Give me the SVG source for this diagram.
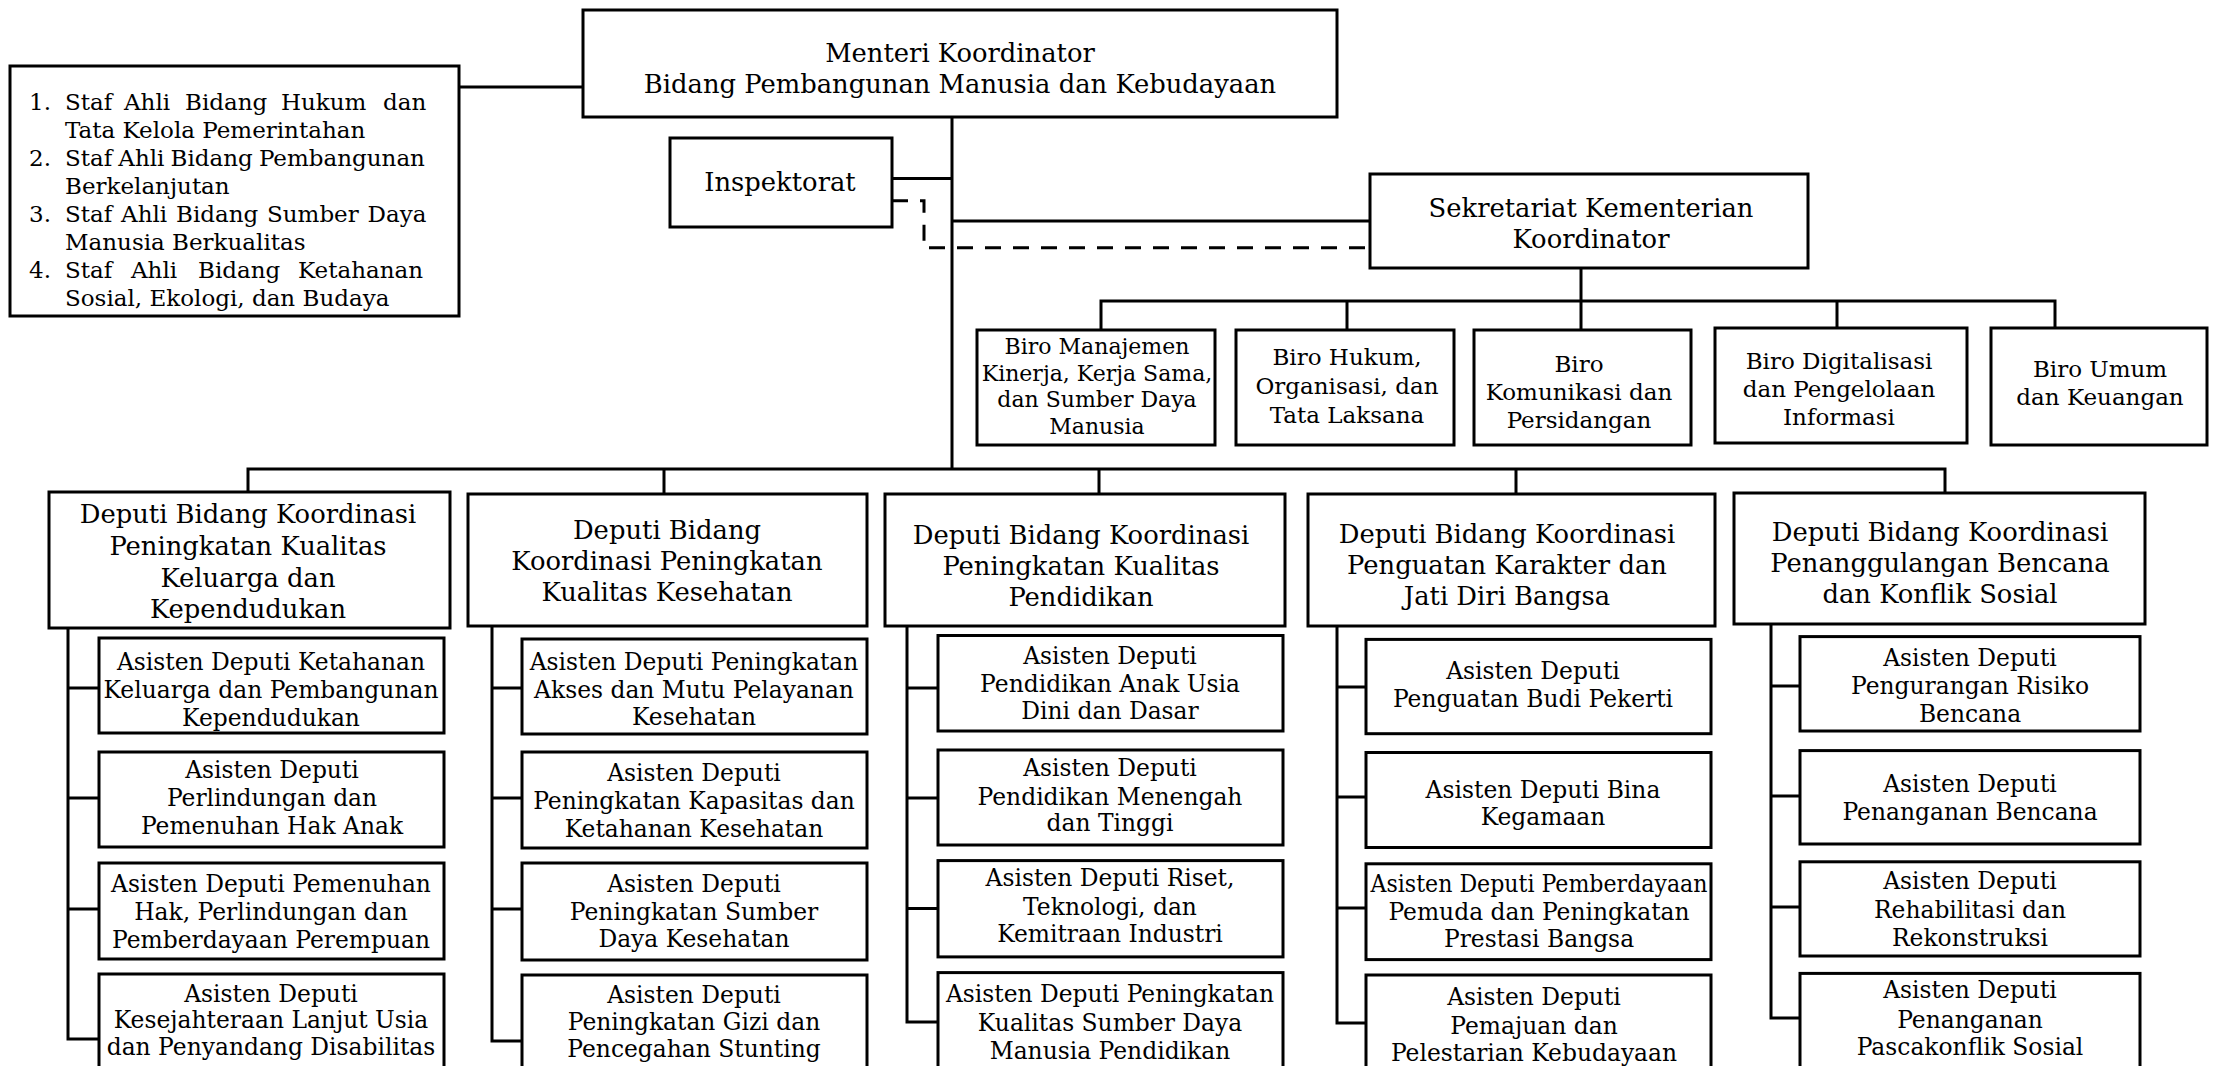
<svg xmlns="http://www.w3.org/2000/svg" width="2215" height="1066" viewBox="0 0 2215 1066">
<style>
.box{fill:#fff;stroke:#000;stroke-width:3}
.ln{fill:none;stroke:#000;stroke-width:3}
.dash{fill:none;stroke:#000;stroke-width:3;stroke-dasharray:16 12}
text{font-family:"DejaVu Serif","Liberation Serif",serif;fill:#000}
.c{text-anchor:middle}
.f25{font-size:25.8px}
.f23{font-size:23.4px}
.fs{font-size:23px}
.f22{font-size:22px}
</style>
<rect width="2215" height="1066" fill="#fff"/>
<g id="connectors">
<path class="ln" d="M459 87H583"/>
<path class="ln" d="M952 117V469"/>
<path class="ln" d="M892 178.5H952"/>
<path class="dash" d="M892 200.7H924V247.7H1370"/>
<path class="ln" d="M952 221H1370"/>
<path class="ln" d="M1581 268V301"/>
<path class="ln" d="M1101 330V301H2055V328"/>
<path class="ln" d="M1347 301V330M1581 301V330M1837 301V328"/>
<path class="ln" d="M248 492V469H1945V493"/>
<path class="ln" d="M664 469V494M1099 469V494M1516 469V494"/>
<path class="ln" d="M68 628V1039H99M68 688H99M68 798H99M68 909H99"/>
<path class="ln" d="M492 626V1041H522M492 688H522M492 798H522M492 909H522"/>
<path class="ln" d="M907 626V1022H938M907 688H938M907 798H938M907 908.5H938"/>
<path class="ln" d="M1337 626V1023H1366M1337 687H1366M1337 797H1366M1337 908H1366"/>
<path class="ln" d="M1771 624V1018H1800M1771 686H1800M1771 796H1800M1771 907H1800"/>
</g>
<g id="menteri">
<rect class="box" x="583" y="10" width="754" height="107"/>
<text class="c f25" x="960" y="62">Menteri Koordinator</text>
<text class="c f25" x="960" y="93">Bidang Pembangunan Manusia dan Kebudayaan</text>
</g>
<g id="staf-ahli">
<rect class="box" x="10" y="66" width="449" height="250"/>
<text class="fs" x="29" y="110">1.</text>
<text class="fs" y="110"><tspan x="65">Staf</tspan><tspan x="124">Ahli</tspan><tspan x="185">Bidang</tspan><tspan x="281">Hukum</tspan><tspan x="383">dan</tspan></text>
<text class="fs" x="65" y="138">Tata Kelola Pemerintahan</text>
<text class="fs" x="29" y="166">2.</text>
<text class="fs" x="65" y="166" word-spacing="-1.2">Staf Ahli Bidang Pembangunan</text>
<text class="fs" x="65" y="194">Berkelanjutan</text>
<text class="fs" x="29" y="222">3.</text>
<text class="fs" x="65" y="222" word-spacing="1.5">Staf Ahli Bidang Sumber Daya</text>
<text class="fs" x="65" y="250">Manusia Berkualitas</text>
<text class="fs" x="29" y="278">4.</text>
<text class="fs" y="278"><tspan x="65">Staf</tspan><tspan x="131">Ahli</tspan><tspan x="198">Bidang</tspan><tspan x="298">Ketahanan</tspan></text>
<text class="fs" x="65" y="306">Sosial, Ekologi, dan Budaya</text>
</g>
<g id="inspektorat">
<rect class="box" x="670" y="138" width="222" height="89"/>
<text class="c f25" x="780" y="191">Inspektorat</text>
</g>
<g id="sekretariat">
<rect class="box" x="1370" y="174" width="438" height="94"/>
<text class="c f25" x="1591" y="217">Sekretariat Kementerian</text>
<text class="c f25" x="1591" y="248">Koordinator</text>
</g>
<g id="biro-1">
<rect class="box" x="977" y="330" width="238" height="115"/>
<text class="c f22" x="1097" y="354">Biro Manajemen</text>
<text class="c f22" x="1097" y="381">Kinerja, Kerja Sama,</text>
<text class="c f22" x="1097" y="407">dan Sumber Daya</text>
<text class="c f22" x="1097" y="434">Manusia</text>
</g>
<g id="biro-2">
<rect class="box" x="1236" y="330" width="218" height="115"/>
<text class="c fs" x="1347" y="365">Biro Hukum,</text>
<text class="c fs" x="1347" y="394">Organisasi, dan</text>
<text class="c fs" x="1347" y="423">Tata Laksana</text>
</g>
<g id="biro-3">
<rect class="box" x="1474" y="330" width="217" height="115"/>
<text class="c fs" x="1579" y="372">Biro</text>
<text class="c fs" x="1579" y="400">Komunikasi dan</text>
<text class="c fs" x="1579" y="428">Persidangan</text>
</g>
<g id="biro-4">
<rect class="box" x="1715" y="328" width="252" height="115"/>
<text class="c fs" x="1839" y="369">Biro Digitalisasi</text>
<text class="c fs" x="1839" y="397">dan Pengelolaan</text>
<text class="c fs" x="1839" y="425">Informasi</text>
</g>
<g id="biro-5">
<rect class="box" x="1991" y="328" width="216" height="117"/>
<text class="c fs" x="2100" y="377">Biro Umum</text>
<text class="c fs" x="2100" y="405">dan Keuangan</text>
</g>
<g id="deputi-1">
<rect class="box" x="49" y="492" width="401" height="136"/>
<text class="c f25" x="248" y="523">Deputi Bidang Koordinasi</text>
<text class="c f25" x="248" y="555">Peningkatan Kualitas</text>
<text class="c f25" x="248" y="587">Keluarga dan</text>
<text class="c f25" x="248" y="618">Kependudukan</text>
</g>
<g id="deputi-2">
<rect class="box" x="468" y="494" width="399" height="132"/>
<text class="c f25" x="667" y="539">Deputi Bidang</text>
<text class="c f25" x="667" y="570">Koordinasi Peningkatan</text>
<text class="c f25" x="667" y="601">Kualitas Kesehatan</text>
</g>
<g id="deputi-3">
<rect class="box" x="885" y="494" width="400" height="132"/>
<text class="c f25" x="1081" y="544">Deputi Bidang Koordinasi</text>
<text class="c f25" x="1081" y="575">Peningkatan Kualitas</text>
<text class="c f25" x="1081" y="606">Pendidikan</text>
</g>
<g id="deputi-4">
<rect class="box" x="1308" y="494" width="407" height="132"/>
<text class="c f25" x="1507" y="543">Deputi Bidang Koordinasi</text>
<text class="c f25" x="1507" y="574">Penguatan Karakter dan</text>
<text class="c f25" x="1507" y="605">Jati Diri Bangsa</text>
</g>
<g id="deputi-5">
<rect class="box" x="1734" y="493" width="411" height="131"/>
<text class="c f25" x="1940" y="541">Deputi Bidang Koordinasi</text>
<text class="c f25" x="1940" y="572">Penanggulangan Bencana</text>
<text class="c f25" x="1940" y="603">dan Konflik Sosial</text>
</g>
<g id="asdep-1-1">
<rect class="box" x="99" y="638" width="345" height="95"/>
<text class="c f23" x="271" y="670">Asisten Deputi Ketahanan</text>
<text class="c f23" x="271" y="698">Keluarga dan Pembangunan</text>
<text class="c f23" x="271" y="726">Kependudukan</text>
</g>
<g id="asdep-1-2">
<rect class="box" x="99" y="752" width="345" height="95"/>
<text class="c f23" x="272" y="778">Asisten Deputi</text>
<text class="c f23" x="272" y="806">Perlindungan dan</text>
<text class="c f23" x="272" y="834">Pemenuhan Hak Anak</text>
</g>
<g id="asdep-1-3">
<rect class="box" x="99" y="863" width="345" height="96"/>
<text class="c f23" x="271" y="892">Asisten Deputi Pemenuhan</text>
<text class="c f23" x="271" y="920">Hak, Perlindungan dan</text>
<text class="c f23" x="271" y="948">Pemberdayaan Perempuan</text>
</g>
<g id="asdep-1-4">
<rect class="box" x="99" y="974" width="345" height="100"/>
<text class="c f23" x="271" y="1002">Asisten Deputi</text>
<text class="c f23" x="271" y="1028">Kesejahteraan Lanjut Usia</text>
<text class="c f23" x="271" y="1055">dan Penyandang Disabilitas</text>
</g>
<g id="asdep-2-1">
<rect class="box" x="522" y="639" width="345" height="95"/>
<text class="c f23" x="694" y="670">Asisten Deputi Peningkatan</text>
<text class="c f23" x="694" y="698">Akses dan Mutu Pelayanan</text>
<text class="c f23" x="694" y="725">Kesehatan</text>
</g>
<g id="asdep-2-2">
<rect class="box" x="522" y="752" width="345" height="96"/>
<text class="c f23" x="694" y="781">Asisten Deputi</text>
<text class="c f23" x="694" y="809">Peningkatan Kapasitas dan</text>
<text class="c f23" x="694" y="837">Ketahanan Kesehatan</text>
</g>
<g id="asdep-2-3">
<rect class="box" x="522" y="863" width="345" height="97"/>
<text class="c f23" x="694" y="892">Asisten Deputi</text>
<text class="c f23" x="694" y="920">Peningkatan Sumber</text>
<text class="c f23" x="694" y="947">Daya Kesehatan</text>
</g>
<g id="asdep-2-4">
<rect class="box" x="522" y="975" width="345" height="100"/>
<text class="c f23" x="694" y="1003">Asisten Deputi</text>
<text class="c f23" x="694" y="1030">Peningkatan Gizi dan</text>
<text class="c f23" x="694" y="1057">Pencegahan Stunting</text>
</g>
<g id="asdep-3-1">
<rect class="box" x="938" y="635.5" width="345" height="95.5"/>
<text class="c f23" x="1110" y="664">Asisten Deputi</text>
<text class="c f23" x="1110" y="692">Pendidikan Anak Usia</text>
<text class="c f23" x="1110" y="719">Dini dan Dasar</text>
</g>
<g id="asdep-3-2">
<rect class="box" x="938" y="750" width="345" height="95"/>
<text class="c f23" x="1110" y="776">Asisten Deputi</text>
<text class="c f23" x="1110" y="805">Pendidikan Menengah</text>
<text class="c f23" x="1110" y="831">dan Tinggi</text>
</g>
<g id="asdep-3-3">
<rect class="box" x="938" y="860.6" width="345" height="96.3"/>
<text class="c f23" x="1110" y="886">Asisten Deputi Riset,</text>
<text class="c f23" x="1110" y="915">Teknologi, dan</text>
<text class="c f23" x="1110" y="942">Kemitraan Industri</text>
</g>
<g id="asdep-3-4">
<rect class="box" x="938" y="972.6" width="345" height="100"/>
<text class="c f23" x="1110" y="1002" textLength="328" lengthAdjust="spacingAndGlyphs">Asisten Deputi Peningkatan</text>
<text class="c f23" x="1110" y="1031">Kualitas Sumber Daya</text>
<text class="c f23" x="1110" y="1059">Manusia Pendidikan</text>
</g>
<g id="asdep-4-1">
<rect class="box" x="1366" y="639.4" width="345" height="94.3"/>
<text class="c f23" x="1533" y="679">Asisten Deputi</text>
<text class="c f23" x="1533" y="707">Penguatan Budi Pekerti</text>
</g>
<g id="asdep-4-2">
<rect class="box" x="1366" y="752.5" width="345" height="95"/>
<text class="c f23" x="1543" y="798">Asisten Deputi Bina</text>
<text class="c f23" x="1543" y="825">Kegamaan</text>
</g>
<g id="asdep-4-3">
<rect class="box" x="1366" y="863.8" width="345" height="95.8"/>
<text class="c f23" x="1539" y="892" textLength="337" lengthAdjust="spacingAndGlyphs">Asisten Deputi Pemberdayaan</text>
<text class="c f23" x="1539" y="920">Pemuda dan Peningkatan</text>
<text class="c f23" x="1539" y="947">Prestasi Bangsa</text>
</g>
<g id="asdep-4-4">
<rect class="box" x="1366" y="975" width="345" height="100"/>
<text class="c f23" x="1534" y="1005">Asisten Deputi</text>
<text class="c f23" x="1534" y="1034">Pemajuan dan</text>
<text class="c f23" x="1534" y="1061">Pelestarian Kebudayaan</text>
</g>
<g id="asdep-5-1">
<rect class="box" x="1800" y="636.6" width="340" height="94.4"/>
<text class="c f23" x="1970" y="666">Asisten Deputi</text>
<text class="c f23" x="1970" y="694">Pengurangan Risiko</text>
<text class="c f23" x="1970" y="722">Bencana</text>
</g>
<g id="asdep-5-2">
<rect class="box" x="1800" y="750.6" width="340" height="93.4"/>
<text class="c f23" x="1970" y="792">Asisten Deputi</text>
<text class="c f23" x="1970" y="820">Penanganan Bencana</text>
</g>
<g id="asdep-5-3">
<rect class="box" x="1800" y="861.8" width="340" height="94.2"/>
<text class="c f23" x="1970" y="889">Asisten Deputi</text>
<text class="c f23" x="1970" y="918">Rehabilitasi dan</text>
<text class="c f23" x="1970" y="946">Rekonstruksi</text>
</g>
<g id="asdep-5-4">
<rect class="box" x="1800" y="973.4" width="340" height="100"/>
<text class="c f23" x="1970" y="998">Asisten Deputi</text>
<text class="c f23" x="1970" y="1028">Penanganan</text>
<text class="c f23" x="1970" y="1055">Pascakonflik Sosial</text>
</g>
</svg>
